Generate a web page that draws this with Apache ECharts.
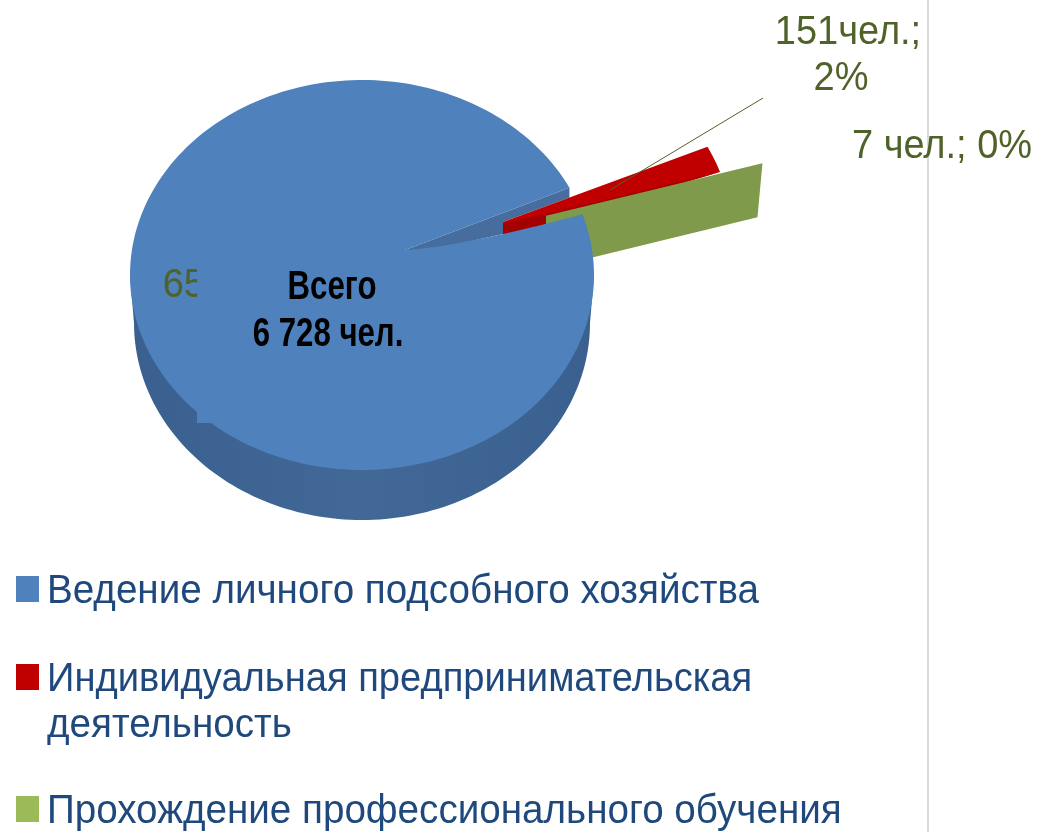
<!DOCTYPE html>
<html lang="ru">
<head>
    <meta charset="UTF-8">
    <title>Всего 6 728 чел.</title>
    <style>
        html, body { margin: 0; padding: 0; background: #fff; }
    </style>
</head>
<body>
    <div id="main" style="width:1041px; height:832px;"></div>
    <script src="https://cdn.jsdelivr.net/npm/echarts@6/dist/echarts.min.js"></script>
    <script>
    var categories = ['Ведение личного подсобного хозяйства', 'Индивидуальная предпринимательская деятельность', 'Прохождение профессионального обучения'];
    var values = [6570, 151, 7];
    var dataLabels = ['6570 чел.; 98%', '151чел.;\n2%', '7 чел.; 0%'];
    var centerTitle = ['Всего', '6 728 чел.'];
    var legendLines = [['Ведение личного подсобного хозяйства'], ['Индивидуальная предпринимательская', 'деятельность'], ['Прохождение профессионального обучения']];

    var total = values[0] + values[1] + values[2];
    var startAngle = 26.6; // where the big slice starts, upper right

    // drawing layout of the tilted pie
    var pie = { cx: 362, cy: 275, rx: 232, ry: 195, sideCy: 323, sideRx: 228, sideRy: 197, apex: [405, 250], lipCtrl: [460, 247] };
    var redCut = { explode: [138, -41], pivot: [397, 261], cutX: 503 };
    var greenCut = { explode: [180, -51], cutX: 546, wallH: 53 };
    var labelColor = '#4f6228';
    var font = '"Liberation Sans", Arial, sans-serif';

    function ell(a, dx, dy) {
        var r = a * Math.PI / 180;
        return [pie.cx + pie.rx * Math.cos(r) + (dx || 0), pie.cy - pie.ry * Math.sin(r) + (dy || 0)];
    }
    function share(v) { return 360 * v / total; }
    // point on the line p-q at a given x
    function atX(p, q, x) {
        return [x, p[1] + (q[1] - p[1]) * (x - p[0]) / (q[0] - p[0])];
    }
    function poly(points, color, z2) {
        return { type: 'polygon', shape: { points: points }, style: { fill: color }, z2: z2, silent: true };
    }
    function labelText(text, x, y, z2) {
        return { type: 'text', x: x, y: y, scaleX: 0.95, z2: z2, silent: true, style: { text: text, fill: labelColor, font: '40px ' + font, align: 'center', verticalAlign: 'middle' } };
    }

    function renderBlue(params, api) {
        var a0 = startAngle, a1 = startAngle + share(api.value(0));
        var top = [], i, n = 240;
        for (i = 0; i <= n; i++) top.push(ell(a0 + (a1 - a0) * i / n));
        var end = top[n], begin = top[0];
        // inner lip of the cut goes back to the apex with a little bend
        for (i = 1; i <= 20; i++) {
            var t = i / 20, u = 1 - t;
            top.push([u * u * end[0] + 2 * t * u * pie.lipCtrl[0] + t * t * pie.apex[0],
                      u * u * end[1] + 2 * t * u * pie.lipCtrl[1] + t * t * pie.apex[1]]);
        }
        var side = [];
        for (i = 0; i <= 120; i++) {
            var r = Math.PI * i / 120;
            side.push([pie.cx + pie.sideRx * Math.cos(r), pie.sideCy + pie.sideRy * Math.sin(r)]);
        }
        side.push([pie.cx - pie.rx, pie.cy], [pie.cx + pie.rx, pie.cy]);
        // the wall of the cut ends on the upper edge of the red slice
        var redOuter = ell(startAngle, redCut.explode[0], redCut.explode[1]);
        var wallLow = atX(redOuter, redCut.pivot, redCut.cutX);
        var wall = [begin, atX(redOuter, redCut.pivot, begin[0]), wallLow, [redCut.cutX, wallLow[1] + 12], [pie.apex[0] + 26, pie.apex[1]], pie.apex];
        return { type: 'group', children: [
            { type: 'polygon', shape: { points: side }, silent: true, z2: 1, style: { fill: new echarts.graphic.LinearGradient(0, 0, 1, 0, [
                { offset: 0, color: '#3a6090' }, { offset: 0.5, color: '#426898' }, { offset: 1, color: '#3a6090' }]) } },
            poly(wall, '#466d9e', 2),
            poly(top, '#4f81bd', 6),
            labelText(dataLabels[0], 295, 286, 7),
            { type: 'rect', shape: { x: 197, y: 262, width: 270, height: 161 }, style: { fill: '#4f81bd' }, z2: 8, silent: true }
        ] };
    }

    function renderRed(params, api) {
        var a0 = startAngle, a1 = a0 - share(api.value(0));
        var dx = redCut.explode[0], dy = redCut.explode[1];
        var outer = [], i;
        for (i = 0; i <= 8; i++) outer.push(ell(a0 + (a1 - a0) * i / 8, dx, dy));
        var upCut = atX(outer[0], redCut.pivot, redCut.cutX);
        var lowCut = atX(outer[8], redCut.pivot, redCut.cutX);
        var leader = { type: 'line', z2: 9, silent: true, shape: { x1: 763, y1: 98, x2: 610, y2: 190 }, style: { stroke: labelColor, lineWidth: 1 } };
        return { type: 'group', children: [
            poly(outer.concat([lowCut, upCut]), '#c00000', 3),
            // darker underside, runs on under the blue top
            poly([outer[8], [lowCut[0], lowCut[1] + 6], [upCut[0], upCut[1] + 2]], '#a30000', 3),
            leader,
            labelText(dataLabels[1].split('\n')[0], 848, 33, 9),
            labelText(dataLabels[1].split('\n')[1], 841, 79, 9)
        ] };
    }

    function renderGreen(params, api) {
        var a = startAngle - share(values[1]) - share(api.value(0));
        var outer = ell(a, greenCut.explode[0], greenCut.explode[1]);
        var inner = atX(outer, pie.apex, greenCut.cutX);
        return { type: 'group', children: [
            poly([inner, outer, [outer[0] - 5, outer[1] + greenCut.wallH + 1], [inner[0], inner[1] + greenCut.wallH]], '#7f9a4b', 4),
            labelText(dataLabels[2], 942, 147, 9)
        ] };
    }

    // legend, rows as in the original layout
    var legendColors = ['#4f81bd', '#c00000', '#9bbb59'];
    var legendRows = [590, 678, 810];
    var legendScale = [[0.965], [0.953, 0.965], [0.965]];
    var legendGraphic = [];
    legendLines.forEach(function (lines, i) {
        legendGraphic.push({ type: 'rect', x: 16, y: legendRows[i] - 14, shape: { width: 23, height: 26 }, style: { fill: legendColors[i] } });
        lines.forEach(function (line, j) {
            legendGraphic.push({ type: 'text', x: 47, y: legendRows[i] + 2 + j * 46, scaleX: legendScale[i][j], style: { text: line, fill: '#1f497d', font: '40px ' + font, verticalAlign: 'middle' } });
        });
    });
    var titleFont = 'bold 40px ' + font;
    var titleGraphic = [
        { type: 'text', x: 332, y: 288, scaleX: 0.78, z: 10, style: { text: centerTitle[0], fill: '#000', font: titleFont, align: 'center', verticalAlign: 'middle' } },
        { type: 'text', x: 328, y: 335, scaleX: 0.78, z: 10, style: { text: centerTitle[1], fill: '#000', font: titleFont, align: 'center', verticalAlign: 'middle' } }
    ];
    var rule = { type: 'line', shape: { x1: 928, y1: 0, x2: 928, y2: 832 }, style: { stroke: '#d9d9d9', lineWidth: 2 } };

    var myChart = echarts.init(document.getElementById('main'), null, { renderer: 'canvas' });
    myChart.setOption({
        animation: false,
        backgroundColor: '#fff',
        tooltip: { show: false },
        graphic: [rule].concat(legendGraphic, titleGraphic),
        series: [
            { type: 'custom', name: categories[0], coordinateSystem: 'none', renderItem: renderBlue, data: [values[0]] },
            { type: 'custom', name: categories[1], coordinateSystem: 'none', renderItem: renderRed, data: [values[1]] },
            { type: 'custom', name: categories[2], coordinateSystem: 'none', renderItem: renderGreen, data: [values[2]] }
        ]
    });
    window.onresize = myChart.resize;
    </script>
</body>
</html>
